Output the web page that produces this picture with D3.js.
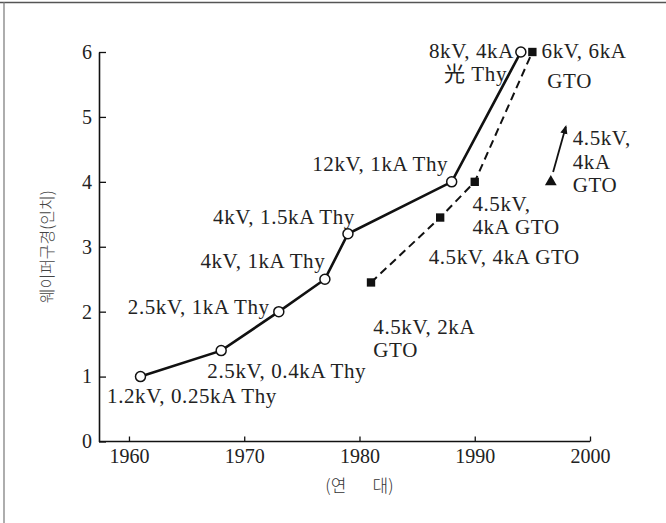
<!DOCTYPE html>
<html>
<head>
<meta charset="utf-8">
<script src="https://cdn.jsdelivr.net/npm/d3@7"></script>
<style>
  body { margin: 0; background: #fff; }
  .lbl { font-family: "Liberation Serif", "Noto Sans CJK JP", serif; font-size: 21px; fill: #222; letter-spacing: 0.6px; }
  .tick text { font-family: "Liberation Serif", serif; font-size: 20px; fill: #222; }
</style>
</head>
<body>
<div id="chart"></div>
<script>
var width = 666,
	height = 523;

// thyristor (open circles, solid line)
var thyYears = [1961, 1968, 1973, 1977, 1979, 1988, 1994],
	thyValues = [1.0, 1.4, 2.0, 2.5, 3.2, 4.0, 6.0];

// GTO (filled squares, dashed line)
var gtoYears = [1981, 1987, 1990, 1995],
	gtoValues = [2.45, 3.45, 4.0, 6.0];

// single GTO triangle + trend arrow
var triYear = [1996.6],
	triValue = [4.0],
	arrowYears = [1996.8, 1997.9],
	arrowValues = [4.15, 4.85];

var xTicks = [1960, 1970, 1980, 1990, 2000],
	yTicks = [0, 1, 2, 3, 4, 5, 6];

// annotation texts, anchored in data units
var labelTexts = ["8kV, 4kA", "光 Thy", "6kV, 6kA", "GTO", "4.5kV,", "4kA", "GTO",
		"12kV, 1kA Thy", "4.5kV,", "4kA GTO", "4.5kV, 4kA GTO", "4.5kV, 2kA", "GTO",
		"4kV, 1.5kA Thy", "4kV, 1kA Thy", "2.5kV, 1kA Thy", "2.5kV, 0.4kA Thy", "1.2kV, 0.25kA Thy"],
	labelYears = [1993.4, 1992.8, 1995.8, 1996.3, 1998.5, 1998.5, 1998.5,
		1987.7, 1989.8, 1989.8, 1986.0, 1981.2, 1981.2,
		1967.3, 1966.2, 1959.9, 1966.8, 1958.1],
	labelValues = [5.91, 5.555, 5.91, 5.45, 4.57, 4.2, 3.85,
		4.17, 3.55, 3.2, 2.74, 1.66, 1.3,
		3.35, 2.68, 1.97, 0.98, 0.6],
	labelAnchor = ["end", "end", "start", "start", "start", "start", "start",
		"end", "start", "start", "start", "start", "start",
		"start", "start", "start", "start", "start"];

var x = d3.scaleLinear().domain([1957.4, 2000]).range([99, 590]),
	y = d3.scaleLinear().domain([0, 6]).range([441.5, 52]);

var svg = d3.select("#chart")
	.append("svg")
	.attr("width", width)
	.attr("height", height);

// scanned frame edges
svg.append("line").attr("x1", 0).attr("x2", width).attr("y1", 2.5).attr("y2", 2.5)
	.attr("stroke", "#555").attr("stroke-width", 1.5);
svg.append("line").attr("x1", 4).attr("x2", 4).attr("y1", 2).attr("y2", height)
	.attr("stroke", "#777").attr("stroke-width", 1.2);

var xAxis = svg.append("g")
	.attr("transform", "translate(0," + y(0) + ")")
	.call(d3.axisBottom(x).tickValues(xTicks).tickFormat(d3.format("d"))
		.tickSizeInner(-5).tickSizeOuter(0).tickPadding(7));

var yAxis = svg.append("g")
	.attr("transform", "translate(" + x.range()[0] + ",0)")
	.call(d3.axisLeft(y).tickValues(yTicks).tickFormat(d3.format("d"))
		.tickSizeInner(-7).tickSizeOuter(0).tickPadding(7));

svg.selectAll(".domain").attr("stroke", "#111").attr("stroke-width", 1.6);
svg.selectAll(".tick line").attr("stroke", "#111").attr("stroke-width", 1.3);
// last x tick closes the axis
xAxis.select(".domain").attr("d", "M" + x.range()[0] + ",0H" + x(2000));

svg.append("text")
	.attr("x", x(1980))
	.attr("y", 492)
	.attr("text-anchor", "middle")
	.style("font-family", "'Noto Sans CJK KR', sans-serif")
	.style("font-size", "17px")
	.style("font-weight", 300)
	.style("fill", "#333")
	.style("white-space", "pre")
	.text("(연       대)");

svg.append("text")
	.attr("transform", "translate(53," + y(3.0) + ") rotate(-90)")
	.attr("text-anchor", "middle")
	.style("font-family", "'Noto Sans CJK KR', sans-serif")
	.style("font-size", "16px")
	.style("font-weight", 300)
	.style("fill", "#444")
	.text("웨이퍼구경(인치)");

var thy = thyYears.map(function(d, i){ return {year: d, value: thyValues[i]}; }),
	gto = gtoYears.map(function(d, i){ return {year: d, value: gtoValues[i]}; });

var line = d3.line()
	.x(function(d){ return x(d.year); })
	.y(function(d){ return y(d.value); });

svg.append("path")
	.datum(gto)
	.attr("d", line)
	.attr("fill", "none")
	.attr("stroke", "#111")
	.attr("stroke-width", 2)
	.attr("stroke-dasharray", "8,5");

svg.append("path")
	.datum(thy)
	.attr("d", line)
	.attr("fill", "none")
	.attr("stroke", "#111")
	.attr("stroke-width", 2.6);

svg.selectAll("circle.thy")
	.data(thy)
	.enter()
	.append("circle")
	.attr("class", "thy")
	.attr("cx", function(d){ return x(d.year); })
	.attr("cy", function(d){ return y(d.value); })
	.attr("r", 5)
	.attr("fill", "#fff")
	.attr("stroke", "#111")
	.attr("stroke-width", 1.5);

svg.selectAll("path.gto")
	.data(gto)
	.enter()
	.append("path")
	.attr("class", "gto")
	.attr("d", d3.symbol().type(d3.symbolSquare).size(70))
	.attr("transform", function(d){ return "translate(" + x(d.year) + "," + y(d.value) + ")"; })
	.attr("fill", "#111");

svg.selectAll("path.tri")
	.data(triYear)
	.enter()
	.append("path")
	.attr("class", "tri")
	.attr("d", d3.symbol().type(d3.symbolTriangle).size(60))
	.attr("transform", function(d, i){ return "translate(" + x(d) + "," + y(triValue[i]) + ")"; })
	.attr("fill", "#111");

svg.append("defs").append("marker")
	.attr("id", "head")
	.attr("viewBox", "0 0 10 10")
	.attr("refX", 8).attr("refY", 5)
	.attr("markerWidth", 5).attr("markerHeight", 6)
	.attr("orient", "auto")
	.append("path")
	.attr("d", "M0,1L10,5L0,9Z")
	.attr("fill", "#111");

svg.append("line")
	.attr("x1", x(arrowYears[0])).attr("y1", y(arrowValues[0]))
	.attr("x2", x(arrowYears[1])).attr("y2", y(arrowValues[1]))
	.attr("stroke", "#111")
	.attr("stroke-width", 1.8)
	.attr("marker-end", "url(#head)");

svg.selectAll("text.lbl")
	.data(labelTexts)
	.enter()
	.append("text")
	.attr("class", "lbl")
	.attr("x", function(d, i){ return x(labelYears[i]); })
	.attr("y", function(d, i){ return y(labelValues[i]); })
	.attr("text-anchor", function(d, i){ return labelAnchor[i]; })
	.text(function(d){ return d; });
</script>
</body>
</html>
